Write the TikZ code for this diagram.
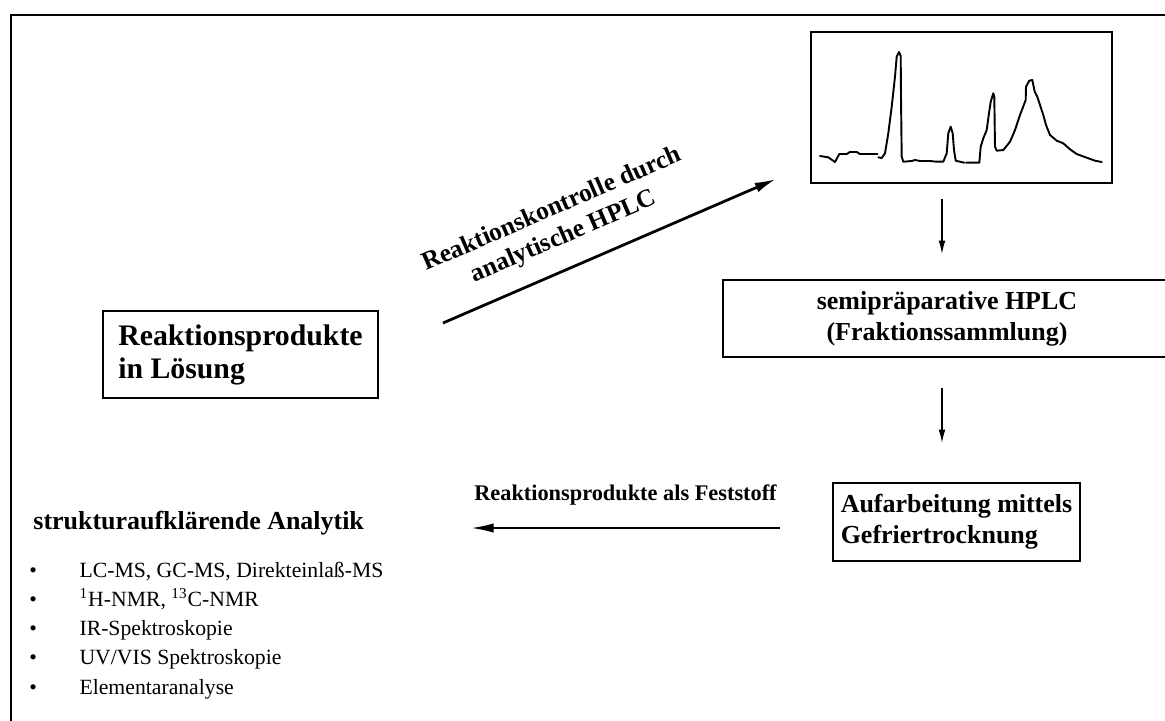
\documentclass[tikz,border=0pt]{standalone}
\usepackage{fontspec}
\setmainfont{Liberation Serif}
\usetikzlibrary{arrows.meta}

\begin{document}
\begin{tikzpicture}[x=0.47pt,y=-0.47pt,
        kasten/.style={draw,line width=0.9pt,inner sep=0pt},
        pfeil/.style={line width=0.6pt,-{Latex[length=6.3pt,width=3.2pt]}},
        dickpfeil/.style={line width=1.3pt,-{Latex[length=10pt,width=4.7pt]}}]
    \useasboundingbox (0,0) rectangle (1165,720);
    \draw[line width=1.4pt] (1175,15) -- (11,15) -- (11,730);

    % boxes
    \node[kasten,minimum width=129.3pt,minimum height=40.9pt,align=left,
        font=\fontsize{14}{15.5}\selectfont\bfseries] (lsg) at (240.5,354.5)
        {Reaktionsprodukte\\in Lösung};
    \node[kasten,line width=1.1pt,minimum width=141.5pt,minimum height=71pt] (chrom) at (961.5,107.5) {};
    \node[kasten,minimum width=210.6pt,minimum height=36.2pt,align=center,
        font=\fontsize{12.2}{14.6}\selectfont\bfseries] (semi) at (947,318.5)
        {semipräparative HPLC\\(Fraktionssammlung)};
    \node[kasten,minimum width=116.1pt,minimum height=36.7pt,align=left,
        font=\fontsize{12.2}{14.6}\selectfont\bfseries] (auf) at (956.5,522)
        {Aufarbeitung mittels\\Gefriertrocknung};

    % chromatogram
    \begin{scope}[line width=0.9pt,line join=round,line cap=round]
        \draw (820,156) -- (828.3,157.3) -- (835,162) -- (839.3,154) -- (846.7,154) -- (850,152)
            -- (856.7,152) -- (860,154) -- (877.3,154);
        \draw (878.3,157.3) -- (881.7,158) -- (885,153.3) -- (888.3,133.3) -- (891.7,106.7)
            -- (895,76.7) -- (896.7,56.7) -- (899,52) -- (900.7,56) -- (901,96.7) -- (901.7,156.7)
            -- (903.3,161.7) -- (911.7,161) -- (915,160) -- (920,161) -- (930,161) -- (936.7,161.7)
            -- (943.3,161.7) -- (946.7,153.3) -- (948.3,133.3) -- (950.7,126.7) -- (952.7,133.3)
            -- (954,150) -- (955.7,160.7) -- (964.3,162.7);
        \draw (966,162.7) -- (979.3,162.7) -- (980.7,146.7) -- (983.3,138.3) -- (986.7,130)
            -- (989,113.3) -- (990.7,101.7) -- (993.3,93.3) -- (994.3,96.7) -- (995,146.7)
            -- (996.7,150.7) -- (1003.3,150) -- (1010,141.7) -- (1015,130) -- (1020,115)
            -- (1025.7,100) -- (1026,86.7) -- (1029.3,80.7) -- (1032.3,80) -- (1034.7,91.7)
            -- (1037.3,96.7) -- (1040,105) -- (1043.3,115) -- (1046,125) -- (1050,135)
            -- (1056.7,140.7) -- (1063.3,143.3) -- (1070,149.3) -- (1076.7,154) -- (1086.7,157.7)
            -- (1095,160.7) -- (1101.7,162);
    \end{scope}

    % arrows
    \coordinate (d1) at (443,323);
    \coordinate (d2) at (776,179);
    \draw[dickpfeil] (d1) -- (d2)
        node[pos=0.4,sloped,above=5pt,align=center,font=\fontsize{12}{14}\selectfont\bfseries] (hplc)
        {Reaktionskontrolle durch\\analytische HPLC};

    \coordinate (s1) at (942,199);
    \coordinate (s2) at (942,254);
    \draw[pfeil] (s1) -- (s2);
    \coordinate (s3) at (942,388);
    \coordinate (s4) at (942,443);
    \draw[pfeil] (s3) -- (s4);

    \coordinate (f1) at (780,528);
    \coordinate (f2) at (471,528);
    \draw[line width=1pt,-{Latex[length=10.6pt,width=4.4pt]}] (f1) -- (f2)
        node[midway,above=7pt,font=\fontsize{10.5}{12}\selectfont\bfseries] (fest)
        {Reaktionsprodukte als Feststoff};

    % analytics
    \node[anchor=west,inner sep=0pt,font=\fontsize{12.2}{14}\selectfont\bfseries] (ana) at (33,523)
        {strukturaufklärende Analytik};
    \node[anchor=west,inner sep=0pt,font=\fontsize{10.2}{13.7}\selectfont] (liste) at (29,630)
        {\begin{tabular}{@{}l@{\hspace{20pt}}l@{}}
            \textbullet & LC-MS, GC-MS, Direkteinlaß-MS\\
            \textbullet & \textsuperscript{1}H-NMR, \textsuperscript{13}C-NMR\\
            \textbullet & IR-Spektroskopie\\
            \textbullet & UV/VIS Spektroskopie\\
            \textbullet & Elementaranalyse
        \end{tabular}};
\end{tikzpicture}
\end{document}
